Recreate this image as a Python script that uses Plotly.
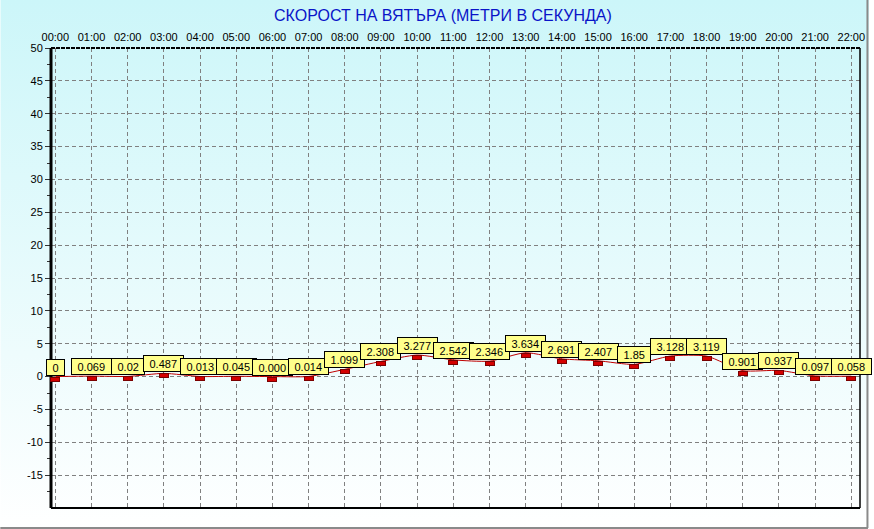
import base64
import plotly.graph_objects as go

# données : vitesse du vent par heure
hours = ['00:00', '01:00', '02:00', '03:00', '04:00', '05:00', '06:00', '07:00',
         '08:00', '09:00', '10:00', '11:00', '12:00', '13:00', '14:00', '15:00',
         '16:00', '17:00', '18:00', '19:00', '20:00', '21:00', '22:00']
speed = [0, 0.069, 0.02, 0.487, 0.013, 0.045, 0.000, 0.014, 1.099, 2.308, 3.277,
         2.542, 2.346, 3.634, 2.691, 2.407, 1.85, 3.128, 3.119, 0.901, 0.937,
         0.097, 0.058]
speed_labels = ['0', '0.069', '0.02', '0.487', '0.013', '0.045', '0.000', '0.014',
                '1.099', '2.308', '3.277', '2.542', '2.346', '3.634', '2.691', '2.407',
                '1.85', '3.128', '3.119', '0.901', '0.937', '0.097', '0.058']
y_ticks = [-15, -10, -5, 0, 5, 10, 15, 20, 25, 30, 35, 40, 45, 50]

FONT = 'Arial, Liberation Sans, sans-serif'
W, H = 874, 529
L, R, T, B = 51, 9, 48, 21


def label_width(s):
    # largeur approx. de la boîte jaune (Arial 11px + marges)
    return sum(3.06 if c == '.' else 6.12 for c in s) + 9


# fond en dégradé (image svg)
svg = ('<svg xmlns="http://www.w3.org/2000/svg" width="100" height="100" preserveAspectRatio="none">'
       '<defs><linearGradient id="g" x1="0" y1="0" x2="0" y2="1">'
       '<stop offset="0" stop-color="#ccf6f9"/><stop offset="1" stop-color="#ffffff"/>'
       '</linearGradient></defs><rect width="100" height="100" fill="url(#g)"/></svg>')
bg_src = 'data:image/svg+xml;base64,' + base64.b64encode(svg.encode()).decode()

fig = go.Figure()

fig.add_trace(go.Scatter(
    x=hours, y=speed, mode='lines',
    line=dict(color='#c00000', width=1, shape='spline', smoothing=0.6),
    hoverinfo='skip', showlegend=False
))

# marqueurs rouges + étiquettes jaunes
for h, v, lab in zip(hours, speed, speed_labels):
    fig.add_annotation(
        x=h, y=v, text=' ', showarrow=False, yanchor='top', yshift=0,
        width=8, height=3, bgcolor='#d40000', bordercolor='#7a0000', borderwidth=1,
        borderpad=0, font=dict(size=2)
    )
    fig.add_annotation(
        x=h, y=v, text=lab, showarrow=False, yanchor='bottom', yshift=1,
        width=label_width(lab), height=13,
        bgcolor='#ffff8c', bordercolor='black', borderwidth=1, borderpad=1,
        font=dict(family=FONT, size=11, color='black')
    )

pw = W - L - R
ph = H - T - B

# titre
fig.add_annotation(
    xref='paper', yref='paper', x=(445 - L) / pw, y=1 + (T - 15) / ph,
    text='СКОРОСТ НА ВЯТЪРА (МЕТРИ В СЕКУНДА)', showarrow=False,
    xanchor='center', yanchor='middle',
    font=dict(family=FONT, size=16, color='#0a14c8')
)

fig.add_layout_image(
    source=bg_src, xref='paper', yref='paper',
    x=-L / pw, y=1 + T / ph, sizex=W / pw, sizey=H / ph,
    xanchor='left', yanchor='top', sizing='stretch', layer='below'
)

# bordures du graphique
fig.add_shape(type='line', xref='paper', yref='paper', x0=0, x1=0, y0=0, y1=1,
              line=dict(color='black', width=3))
fig.add_shape(type='line', xref='paper', yref='paper', x0=0, x1=1, y0=0, y1=0,
              line=dict(color='black', width=2))
fig.add_shape(type='line', xref='paper', yref='paper', x0=1, x1=1, y0=0, y1=1,
              line=dict(color='black', width=1.5))
fig.add_shape(type='line', xref='paper', yref='paper', x0=0, x1=1, y0=1, y1=1,
              line=dict(color='black', width=2, dash='4px,1px'))
# cadre gris extérieur
fig.add_shape(type='line', xref='paper', yref='paper',
              x0=-L / pw, x1=1 + (R - 1) / pw, y0=-(B - 1) / ph, y1=-(B - 1) / ph,
              line=dict(color='#8a8a8a', width=2))
fig.add_shape(type='line', xref='paper', yref='paper',
              x0=1 + (R - 1.5) / pw, x1=1 + (R - 1.5) / pw, y0=-(B - 1) / ph, y1=1 + T / ph,
              line=dict(color='#8a8a8a', width=2))

fig.update_xaxes(
    type='category', categoryorder='array', categoryarray=hours,
    range=[-0.12, 22.24], side='top',
    showgrid=True, gridcolor='#808080', gridwidth=1, griddash='4px,3px',
    showline=False, zeroline=False, ticks='', ticklabelstandoff=4,
    tickfont=dict(family=FONT, size=11, color='black'), fixedrange=True
)
fig.update_yaxes(
    range=[-20, 50], tickvals=y_ticks, ticktext=[str(t) for t in y_ticks],
    showgrid=True, gridcolor='#808080', gridwidth=1, griddash='4px,3px',
    zeroline=False, showline=False,
    ticks='outside', ticklen=5, tickcolor='#333', tickwidth=1,
    minor=dict(tickvals=[t - 2.5 for t in y_ticks] + [47.5], ticks='outside', ticklen=3,
               tickcolor='#333', showgrid=False),
    tickfont=dict(family=FONT, size=11, color='black'), fixedrange=True
)

fig.update_layout(
    width=W, height=H,
    margin=dict(l=L, r=R, t=T, b=B, pad=0),
    paper_bgcolor='white', plot_bgcolor='rgba(0,0,0,0)',
    showlegend=False
)

# pas de marge de page, pour tenir dans la fenêtre
fig.write_html("out.html", config={'displayModeBar': False},
               post_script="document.body.style.margin='0';document.body.style.overflow='hidden';")
